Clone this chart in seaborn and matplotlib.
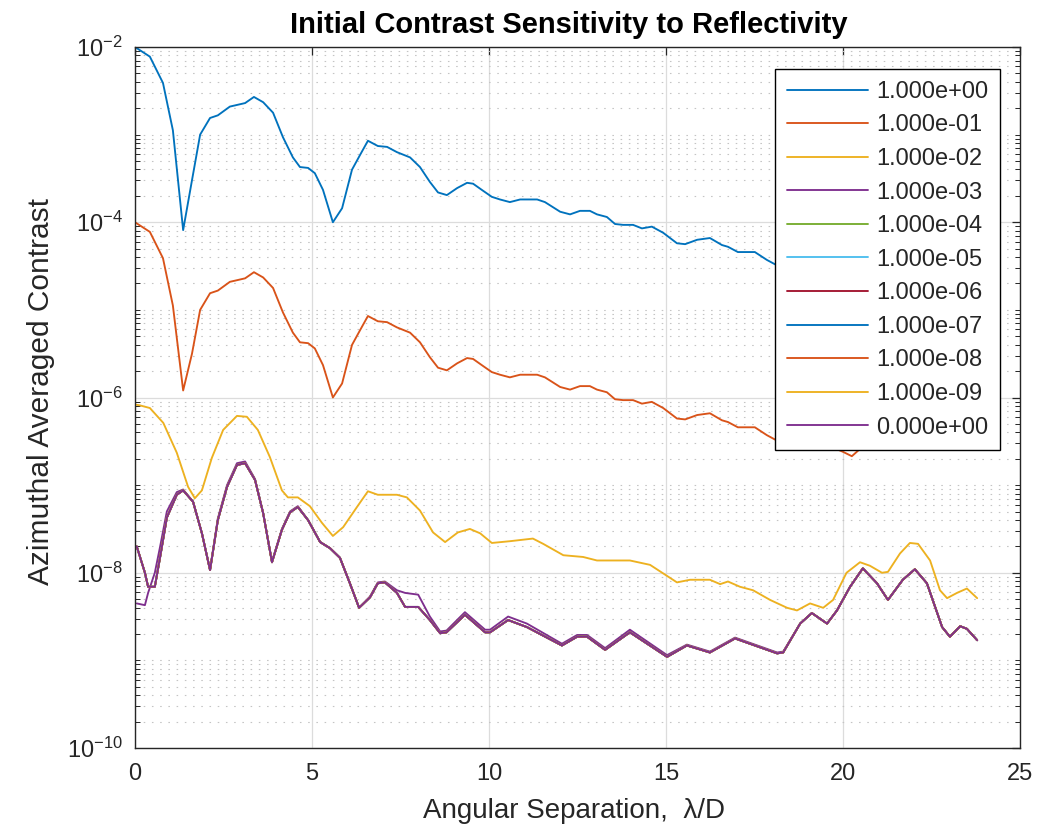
import numpy as np
import pandas as pd
import matplotlib
matplotlib.use("Agg")
import matplotlib.pyplot as plt
import seaborn as sns
from matplotlib.ticker import FixedLocator, LogLocator, FuncFormatter, NullFormatter

# ---------------- data (log10 of contrast) ----------------
labels = ["1.000e+00", "1.000e-01", "1.000e-02", "1.000e-03", "1.000e-04",
          "1.000e-05", "1.000e-06", "1.000e-07", "1.000e-08", "1.000e-09",
          "0.000e+00"]

blue_x = [0.00, 0.42, 0.79, 1.07, 1.36, 1.61, 1.84, 2.12, 2.34, 2.68, 3.11, 3.36,
          3.62, 3.90, 4.18, 4.46, 4.66, 4.89, 5.08, 5.31, 5.59, 5.85, 6.13, 6.36,
          6.58, 6.86, 7.12, 7.40, 7.77, 8.05, 8.33, 8.56, 8.81, 9.10, 9.38, 9.55,
          9.83, 10.08, 10.31, 10.59, 10.88, 11.36, 11.58, 12.01, 12.29, 12.57,
          12.85, 13.05, 13.33, 13.56, 13.79, 14.07, 14.32, 14.60, 14.92, 15.31,
          15.54, 15.88, 16.24, 16.58, 16.75, 17.03, 17.51, 17.85, 18.08, 18.40,
          18.80, 19.20, 19.60, 20.00, 20.25, 20.50, 20.90, 21.30, 21.70, 22.10,
          22.50, 22.90, 23.30, 23.80]
blue_log10 = [-2.00, -2.11, -2.41, -2.95, -4.09, -3.52, -3.00, -2.81, -2.78, -2.68,
              -2.64, -2.57, -2.63, -2.75, -3.03, -3.26, -3.37, -3.38, -3.44, -3.63,
              -4.00, -3.84, -3.40, -3.23, -3.07, -3.13, -3.14, -3.20, -3.26, -3.37,
              -3.54, -3.66, -3.69, -3.61, -3.55, -3.56, -3.64, -3.71, -3.74, -3.77,
              -3.74, -3.74, -3.77, -3.88, -3.91, -3.87, -3.87, -3.91, -3.94, -4.02,
              -4.03, -4.03, -4.07, -4.05, -4.12, -4.24, -4.25, -4.20, -4.18, -4.26,
              -4.28, -4.34, -4.34, -4.43, -4.48, -4.52, -4.50, -4.50, -4.55, -4.62,
              -4.67, -4.58, -4.45, -4.48, -4.44, -4.42, -4.50, -4.52, -4.50, -4.54]

orange_x = blue_x
orange_log10 = [-4.00, -4.11, -4.41, -4.95, -5.92, -5.50, -5.00, -4.81, -4.78, -4.68,
                -4.64, -4.57, -4.63, -4.75, -5.03, -5.26, -5.37, -5.38, -5.44, -5.63,
                -6.00, -5.84, -5.40, -5.23, -5.07, -5.13, -5.14, -5.20, -5.26, -5.37,
                -5.54, -5.66, -5.69, -5.61, -5.55, -5.56, -5.64, -5.71, -5.74, -5.77,
                -5.74, -5.74, -5.77, -5.88, -5.91, -5.87, -5.87, -5.91, -5.94, -6.02,
                -6.03, -6.03, -6.07, -6.05, -6.12, -6.24, -6.25, -6.20, -6.18, -6.26,
                -6.28, -6.34, -6.34, -6.43, -6.48, -6.52, -6.50, -6.50, -6.55, -6.62,
                -6.67, -6.58, -6.45, -6.48, -6.44, -6.42, -6.50, -6.52, -6.50, -6.54]

yellow_x = [0.00, 0.14, 0.42, 0.80, 1.18, 1.50, 1.69, 1.89, 2.17, 2.49, 2.88, 3.16,
            3.47, 3.81, 4.15, 4.32, 4.60, 4.94, 5.28, 5.59, 5.88, 6.27, 6.58, 6.86,
            7.40, 7.68, 8.05, 8.42, 8.76, 9.12, 9.46, 9.75, 10.08, 10.59, 11.24,
            11.53, 12.10, 12.66, 13.05, 13.98, 14.55, 15.31, 15.68, 16.24, 16.53,
            16.75, 17.09, 17.46, 17.94, 18.42, 18.70, 19.07, 19.44, 19.72, 20.10,
            20.48, 20.76, 21.10, 21.27, 21.61, 21.89, 22.12, 22.46, 22.74, 22.94,
            23.22, 23.50, 23.79]
yellow_log10 = [-6.08, -6.09, -6.12, -6.29, -6.63, -7.02, -7.15, -7.06, -6.69, -6.37,
                -6.21, -6.22, -6.37, -6.68, -7.06, -7.14, -7.14, -7.24, -7.43, -7.58,
                -7.48, -7.25, -7.07, -7.11, -7.11, -7.14, -7.29, -7.54, -7.65, -7.54,
                -7.50, -7.55, -7.66, -7.64, -7.61, -7.67, -7.80, -7.82, -7.86, -7.86,
                -7.91, -8.11, -8.08, -8.08, -8.13, -8.10, -8.16, -8.20, -8.31, -8.40,
                -8.43, -8.35, -8.40, -8.31, -8.00, -7.88, -7.92, -8.00, -7.99, -7.78,
                -7.66, -7.67, -7.86, -8.20, -8.29, -8.23, -8.18, -8.29]

base_x = [0.05, 0.28, 0.37, 0.56, 0.71, 0.90, 1.18, 1.36, 1.64, 1.89, 2.12, 2.34,
          2.60, 2.88, 3.11, 3.39, 3.62, 3.87, 4.15, 4.38, 4.60, 4.89, 5.23, 5.51,
          5.79, 6.07, 6.33, 6.64, 6.86, 7.06, 7.40, 7.63, 8.00, 8.33, 8.62, 8.80,
          9.32, 9.89, 10.03, 10.54, 11.07, 12.06, 12.49, 12.77, 13.28, 13.98, 15.03,
          15.59, 16.24, 16.95, 18.14, 18.31, 18.79, 19.12, 19.55, 19.83, 20.20,
          20.56, 20.96, 21.27, 21.69, 22.03, 22.37, 22.80, 23.02, 23.31, 23.50, 23.79]
base_log10 = [-7.70, -8.00, -8.16, -8.16, -7.82, -7.37, -7.11, -7.06, -7.19, -7.55,
              -7.97, -7.40, -7.02, -6.77, -6.75, -6.94, -7.32, -7.88, -7.51, -7.31,
              -7.25, -7.40, -7.65, -7.72, -7.83, -8.12, -8.40, -8.28, -8.12, -8.11,
              -8.23, -8.39, -8.39, -8.54, -8.69, -8.68, -8.48, -8.68, -8.68, -8.54,
              -8.62, -8.83, -8.73, -8.73, -8.88, -8.68, -8.96, -8.83, -8.91, -8.75,
              -8.92, -8.91, -8.58, -8.46, -8.58, -8.43, -8.16, -7.95, -8.12, -8.31,
              -8.08, -7.96, -8.12, -8.62, -8.73, -8.61, -8.64, -8.77]

r3_x = base_x
r3_log10 = [-8.35, -8.37, -8.23, -8.00, -7.70, -7.30, -7.08, -7.05, -7.19, -7.55,
            -7.96, -7.38, -7.00, -6.75, -6.73, -6.93, -7.32, -7.87, -7.50, -7.30,
            -7.24, -7.40, -7.65, -7.72, -7.83, -8.12, -8.40, -8.27, -8.11, -8.10,
            -8.20, -8.23, -8.25, -8.50, -8.67, -8.66, -8.45, -8.65, -8.65, -8.50,
            -8.58, -8.81, -8.71, -8.71, -8.86, -8.65, -8.94, -8.82, -8.90, -8.74,
            -8.91, -8.90, -8.58, -8.46, -8.58, -8.43, -8.16, -7.95, -8.12, -8.31,
            -8.08, -7.96, -8.12, -8.62, -8.73, -8.61, -8.64, -8.77]

series_x = [blue_x, orange_x, yellow_x, r3_x] + [base_x] * 7
series_log10 = [blue_log10, orange_log10, yellow_log10, r3_log10] + [base_log10] * 7

colors = ["#0072BD", "#D95319", "#EDB120", "#7E2F8E", "#77AC30", "#4DBEEE",
          "#A2142F", "#0072BD", "#D95319", "#EDB120", "#7E2F8E"]

xticks = [0, 5, 10, 15, 20, 25]
ymajor = [1e-10, 1e-8, 1e-6, 1e-4, 1e-2]

# ---------------- build long-form table ----------------
rows = []
for lab, xs, ls in zip(labels, series_x, series_log10):
    for xv, lv in zip(xs, ls):
        rows.append((lab, xv, 10.0 ** lv))
df = pd.DataFrame(rows, columns=["label", "x", "y"])

# ---------------- plot ----------------
sns.set_theme(style="white")
plt.rcParams["font.family"] = ["Liberation Sans", "DejaVu Sans"]
plt.rcParams["mathtext.default"] = "regular"

W, H = 1045, 834
fig = plt.figure(figsize=(W / 100, H / 100), dpi=100)
ax = fig.add_axes([135 / W, 1 - 748 / H, 885 / W, 701 / H])

sns.lineplot(data=df, x="x", y="y", hue="label", hue_order=labels,
             palette=dict(zip(labels, colors)), estimator=None, sort=False,
             linewidth=1.35, legend=False, ax=ax)

ax.set_yscale("log")
ax.set_xlim(0, 25)
ax.set_ylim(1e-10, 1e-2)

ax.xaxis.set_major_locator(FixedLocator(xticks))
ax.yaxis.set_major_locator(FixedLocator(ymajor))
ax.yaxis.set_minor_locator(LogLocator(base=10, subs=np.arange(1, 10), numticks=100))
ax.yaxis.set_minor_formatter(NullFormatter())
ax.yaxis.set_major_formatter(FuncFormatter(lambda v, p: r"$10^{%d}$" % round(np.log10(v))))

tc = "#262626"
ax.tick_params(axis="both", which="major", direction="in", length=6, width=0.9,
               colors=tc, labelsize=17, top=True, right=True, pad=9)
ax.tick_params(axis="x", which="major", pad=11)
ax.tick_params(axis="y", which="minor", direction="in", length=3.5, width=0.7,
               colors=tc, left=True, right=True)
ax.tick_params(axis="x", which="minor", bottom=False, top=False)

ax.set_axisbelow(True)
ax.grid(True, which="major", axis="both", color="#dcdcdc", linewidth=0.9, linestyle="-")
ax.grid(True, which="minor", axis="y", color="#c4c4c4", linewidth=0.8, linestyle=(0, (1.4, 6)))

for s in ax.spines.values():
    s.set_visible(True)
    s.set_color(tc)
    s.set_linewidth(1.0)

ax.set_xlabel("Angular Separation,  λ/D", fontsize=20, color=tc)
ax.xaxis.set_label_coords(0.496, -0.072)
ax.set_ylabel("Azimuthal Averaged Contrast", fontsize=21.5, color=tc)
ax.yaxis.set_label_coords(-0.09, 0.508)
ax.set_title("Initial Contrast Sensitivity to Reflectivity", fontsize=21,
             fontweight="bold", color="black", pad=10, x=0.49)

leg = ax.legend(ax.lines[:len(labels)], labels, loc="upper right",
                bbox_to_anchor=((1000 - 135) / 885, 1 - (69 - 47) / 701),
                borderaxespad=0, fontsize=17, frameon=True, fancybox=False,
                framealpha=1, edgecolor="black", handlelength=3.43,
                handletextpad=0.35, labelspacing=0.49, borderpad=0.5)
leg.get_frame().set_linewidth(1.0)
for t in leg.get_texts():
    t.set_color(tc)

fig.savefig("out.png", dpi=100)
